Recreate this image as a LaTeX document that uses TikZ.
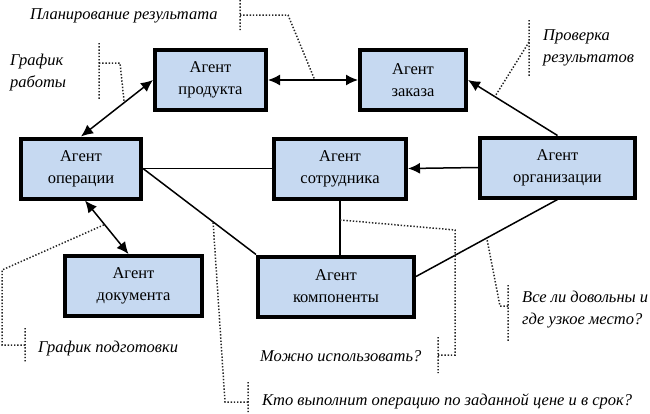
\documentclass[tikz,border=0pt]{standalone}
\usepackage{fontspec}
\setmainfont{Liberation Serif}
\usetikzlibrary{arrows.meta}
\definecolor{agfill}{HTML}{C6D9F1}

\begin{document}
\begin{tikzpicture}[x=1pt,y=-1pt,
	agent/.style={draw,line width=4pt,fill=agfill,minimum height=60pt,align=center,font=\fontsize{16.5}{22}\selectfont},
	lnk/.style={line width=1.5pt},
	arr/.style={lnk,-{Latex[length=12pt,width=11pt]}},
	biarr/.style={lnk,{Latex[length=12pt,width=11pt]}-{Latex[length=12pt,width=11pt]}},
	note/.style={line width=1.5pt,dash pattern=on 1.4pt off 1.8pt,black!85},
	txt/.style={font=\fontsize{16.5}{22}\selectfont\itshape,align=left,inner sep=0pt}]
	\useasboundingbox (0,0) rectangle (650,413);
	\foreach \x/\y/\w/\i/\gt in {210.5/80/111/prod/продукта,413/80/106/zak/заказа,81/168.5/120/oper/операции,340/168.5/132/sotr/сотрудника,557.5/167.5/155/org/организации,133.5/286/137/doc/документа,336/286.5/156/komp/компоненты}
		\node[agent,minimum width=\w pt] (\i) at (\x,\y) {Агент\\\gt};
	\draw[biarr] (prod) -- coordinate[pos=.52] (m1) (zak);
	\draw[biarr] (prod.west) -- coordinate[pos=.4] (m2) (oper.north);
	\draw[biarr] ([xshift=4pt]oper.south) -- coordinate[pos=.45] (m4) ([xshift=-5pt]doc.north);
	\draw[arr] (org.north) -- coordinate[pos=.7] (m3) (zak.east);
	\draw[arr] (org.west) -- (sotr.east);
	\draw[lnk] (oper.east) -- (sotr.west);
	\draw[lnk] (oper.east) -- coordinate[pos=.62] (m5) (komp.north west);
	\draw[lnk] (sotr.south) -- coordinate[pos=.36] (m6) ([xshift=4pt]komp.north);
	\draw[lnk] (org.south) -- coordinate[pos=.5] (m7) ([yshift=10pt]komp.east);
	\path (30,16) node[txt,anchor=west] (t1) {Планирование результата}
		(10,73) node[txt,anchor=west] (t2) {График\\работы}
		(543,48) node[txt,anchor=west] (t3) {Проверка\\результатов}
		(38,349) node[txt,anchor=west] (t4) {График подготовки}
		(262,401) node[txt,anchor=west] (t5) {Кто выполнит операцию по заданной цене и в срок?}
		(260,356) node[txt,anchor=west] (t6) {Можно использовать?}
		(522,310) node[txt,anchor=west] (t7) {Все ли довольны и\\где узкое место?};
	\draw[note] (240,0)--(240,30) (240,15)--(288,15)--(m1);
	\draw[note] (99,43)--(99,100) (99,63)--(120,63)--(m2);
	\draw[note] (529,20)--(529,76) (529,42)--(m3);
	\draw[note] (25,328)--(25,363) (25,345)--(2,345)--(2,270)--(m4);
	\draw[note] (248,382)--(248,413) (248,402)--(225,402)--(m5);
	\draw[note] (438,337)--(438,373) (438,355)--(455,355)--(455,230)--(m6);
	\draw[note] (508,285)--(508,342) (508,306)--(500,306)--(m7);
\end{tikzpicture}
\end{document}
